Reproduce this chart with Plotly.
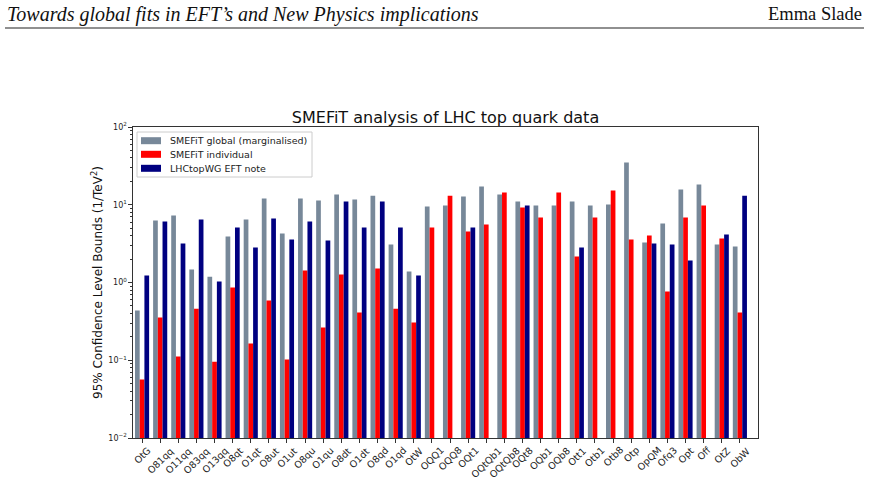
import plotly.graph_objects as go

categories = ["OtG", "O81qq", "O11qq", "O83qq", "O13qq", "O8qt", "O1qt", "O8ut", "O1ut",
              "O8qu", "O1qu", "O8dt", "O1dt", "O8qd", "O1qd", "OtW", "OQQ1", "OQQ8",
              "OQt1", "OQtQb1", "OQtQb8", "OQt8", "OQb1", "OQb8", "Ott1", "Otb1", "Otb8",
              "Otp", "OpQM", "Ofq3", "Opt", "Off", "OtZ", "ObW"]

smefit_global = [0.436, 6.27, 7.27, 1.47, 1.19, 3.9, 6.46, 12.0, 4.27,
                 12.0, 11.3, 13.5, 11.7, 13.1, 3.08, 1.38, 9.5, 9.8,
                 12.8, 17.2, 13.5, 11.0, 9.8, 9.8, 11.0, 9.8, 10.1,
                 34.9, 3.27, 5.74, 15.7, 18.2, 3.08, 2.9]

smefit_individual = [0.0565, 0.355, 0.112, 0.46, 0.096, 0.86, 0.164, 0.586, 0.102,
                     1.43, 0.264, 1.27, 0.41, 1.51, 0.46, 0.306, 5.1, 13.1,
                     4.53, 5.57, 14.4, 9.2, 6.86, 14.4, 2.16, 6.86, 15.2,
                     3.57, 4.02, 0.766, 6.86, 9.8, 3.68, 0.41]

lhctopwg = [1.23, 6.1, 3.17, 6.46, 1.03, 5.1, 2.82, 6.65, 3.57,
            6.1, 3.47, 11.0, 5.1, 11.0, 5.1, 1.23, None, None,
            5.1, None, None, 9.8, None, None, 2.82, None, None,
            None, 3.17, 3.08, 1.92, None, 4.14, 13.1]

series_names = ["SMEFiT global (marginalised)", "SMEFiT individual", "LHCtopWG EFT note"]
series_colors = ["#778899", "#FF0000", "#000080"]

y_tickvals = [0.01, 0.1, 1, 10, 100]
y_ticktext = ["10<sup>\u22122</sup>", "10<sup>\u22121</sup>", "10<sup>0</sup>",
              "10<sup>1</sup>", "10<sup>2</sup>"]

W, H = 871, 481
L, R, T, B = 133, 113, 127, 43
pw, ph = W - L - R, H - T - B

def px2paper_x(px):
    return (px - L) / pw

def px2paper_y(py):
    return (H - B - py) / ph

fig = go.Figure()
for name, vals, col in zip(series_names, [smefit_global, smefit_individual, lhctopwg], series_colors):
    fig.add_trace(go.Bar(x=categories, y=vals, name=name, showlegend=False,
                         marker=dict(color=col, line=dict(width=0))))

font_fam = "DejaVu Sans"
txt_col = "#222222"

annotations = []
shapes = []
for c in categories:
    annotations.append(dict(x=c, xref="x", y=0, yref="paper", text=c, textangle=-45,
                            showarrow=False, xanchor="center", yanchor="top", yshift=-4,
                            font=dict(family=font_fam, size=9.5, color=txt_col)))

# legend (drawn as a box with swatches and text)
shapes.append(dict(type="rect", xref="paper", yref="paper",
                   x0=px2paper_x(137), x1=px2paper_x(312), y0=px2paper_y(132), y1=px2paper_y(177),
                   line=dict(color="#cccccc", width=1), fillcolor="rgba(255,255,255,0.8)", layer="above"))
row_centers = [140.7, 154.3, 168.3]
for name, col, rc in zip(series_names, series_colors, row_centers):
    shapes.append(dict(type="rect", xref="paper", yref="paper",
                       x0=px2paper_x(141), x1=px2paper_x(161),
                       y0=px2paper_y(rc - 3.5), y1=px2paper_y(rc + 3.5),
                       line=dict(width=0), fillcolor=col, layer="above"))
    annotations.append(dict(x=px2paper_x(168), y=px2paper_y(rc), xref="paper", yref="paper",
                            text=name, showarrow=False, xanchor="left", yanchor="middle",
                            font=dict(family=font_fam, size=9.5, color=txt_col)))

# page header
annotations.append(dict(x=px2paper_x(5), y=px2paper_y(14), xref="paper", yref="paper",
                        text="<i>Towards global fits in EFT\u2019s and New Physics implications</i>",
                        showarrow=False, xanchor="left", yanchor="middle",
                        font=dict(family="Liberation Serif", size=20, color="#111111")))
annotations.append(dict(x=px2paper_x(864), y=px2paper_y(14), xref="paper", yref="paper",
                        text="Emma Slade", showarrow=False, xanchor="right", yanchor="middle",
                        font=dict(family="Liberation Serif", size=18.5, color="#111111")))
shapes.append(dict(type="line", xref="paper", yref="paper",
                   x0=px2paper_x(5), x1=px2paper_x(864), y0=px2paper_y(28), y1=px2paper_y(28),
                   line=dict(color="#222222", width=1.2)))

fig.update_layout(
    width=W, height=H,
    margin=dict(l=L, r=R, t=T, b=B),
    paper_bgcolor="white", plot_bgcolor="white",
    barmode="group", bargap=0.22, bargroupgap=0,
    title=dict(text="SMEFiT analysis of LHC top quark data", x=px2paper_x(445.5), xref="paper",
               xanchor="center", y=1 - 117 / H, yref="container", yanchor="middle",
               font=dict(family=font_fam, size=16, color="#111111")),
    font=dict(family=font_fam, color=txt_col),
    annotations=annotations,
    shapes=shapes,
    showlegend=False,
)

fig.update_xaxes(type="category", range=[-0.5, 34.0], showticklabels=False,
                 ticks="outside", ticklen=3.5, tickwidth=0.8, tickcolor="#333333",
                 showline=True, linecolor="#333333", linewidth=1.2, mirror=True,
                 showgrid=False, zeroline=False, fixedrange=True)

fig.update_yaxes(type="log", range=[-2, 2], tickvals=y_tickvals, ticktext=y_ticktext,
                 ticks="outside", ticklen=3.5, tickwidth=0.8, tickcolor="#333333",
                 tickfont=dict(family=font_fam, size=8, color=txt_col),
                 minor=dict(ticks="outside", ticklen=2, tickwidth=0.6, tickcolor="#333333",
                            dtick="D1", showgrid=False),
                 showline=True, linecolor="#333333", linewidth=1.2, mirror=True,
                 showgrid=False, zeroline=False,
                 title=dict(text="95% Confidence Level Bounds (1/TeV<sup>2</sup>)",
                            font=dict(family=font_fam, size=12, color="#111111"), standoff=3))

fig.write_html("out.html")
